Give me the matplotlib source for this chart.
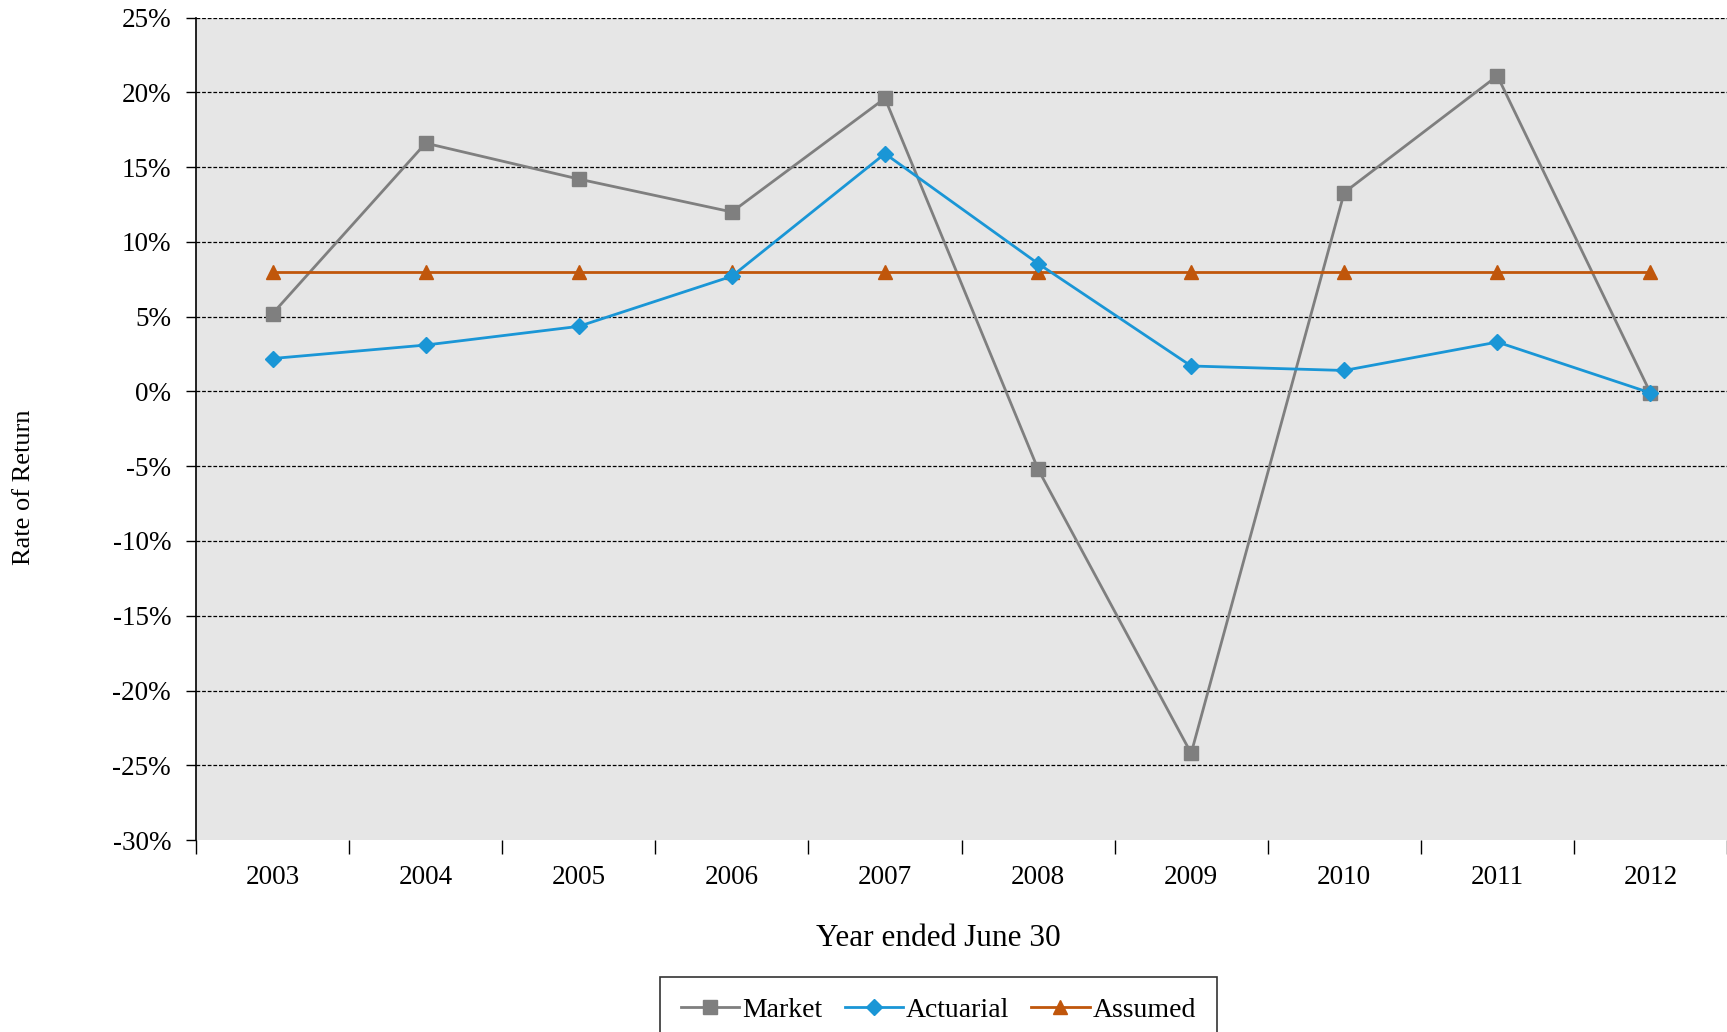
import matplotlib.pyplot as plt
from matplotlib.ticker import FixedLocator, FuncFormatter

# values (percent)
years = ["2003", "2004", "2005", "2006", "2007", "2008", "2009", "2010", "2011", "2012"]
market = [5.2, 16.6, 14.2, 12.0, 19.6, -5.2, -24.2, 13.3, 21.1, -0.1]
actuarial = [2.2, 3.1, 4.35, 7.7, 15.9, 8.55, 1.7, 1.4, 3.3, -0.1]
assumed = [8.0, 8.0, 8.0, 8.0, 8.0, 8.0, 8.0, 8.0, 8.0, 8.0]

plt.rcParams['font.family'] = ['Liberation Serif', 'DejaVu Serif']

fig = plt.figure(figsize=(17.27, 10.32), dpi=100)
ax = fig.add_axes([0.1135, 0.186, 0.8865, 0.797])
ax.set_facecolor('#e6e6e6')

x = list(range(len(years)))
ax.plot(x, market, color='#7f7f7f', lw=2.0, marker='s', ms=10, label='Market', zorder=3)
ax.plot(x, actuarial, color='#1a96d6', lw=2.0, marker='D', ms=8, label='Actuarial', zorder=4)
ax.plot(x, assumed, color='#c0560b', lw=2.0, marker='^', ms=10, label='Assumed', zorder=3)

ax.set_xlim(-0.5, len(years) - 0.5)
ax.set_ylim(-30, 25)
ax.yaxis.set_major_locator(FixedLocator(range(-30, 26, 5)))
ax.yaxis.set_major_formatter(FuncFormatter(lambda v, p: '%d%%' % v))
for v in range(-25, 26, 5):
    ax.axhline(v, color='black', lw=0.9, ls=(0, (3, 1.5)), zorder=1)

ax.set_xticks(x)
ax.set_xticklabels(years)
ax.set_xticks([i - 0.5 for i in range(len(years) + 1)], minor=True)
ax.tick_params(axis='x', which='major', length=0, pad=18, labelsize=19.5)
ax.tick_params(axis='x', which='minor', length=10, width=1, direction='out')
ax.tick_params(axis='y', length=7, width=1, pad=11, labelsize=19.5)

for s in ['top', 'right', 'bottom']:
    ax.spines[s].set_visible(False)
ax.spines['left'].set_linewidth(1.2)

# axis titles are placed on the figure, as in the source chart
fig.text(0.5434, 0.0907, 'Year ended June 30', fontsize=22.5, ha='center', va='center')
fig.text(0.014, 0.528, 'Rate of Return', rotation=90, fontsize=19, ha='center', va='center')

# legend box runs off the bottom edge like in the source image
leg = fig.legend(loc='upper center', bbox_to_anchor=(0.5434, 0.067), ncol=3, fontsize=20,
                 frameon=True, fancybox=False, edgecolor='black', handlelength=2.1,
                 handletextpad=0.1, columnspacing=0.8, borderpad=0.75)
leg.get_frame().set_linewidth(1.2)

fig.savefig('out.png', dpi=100)
